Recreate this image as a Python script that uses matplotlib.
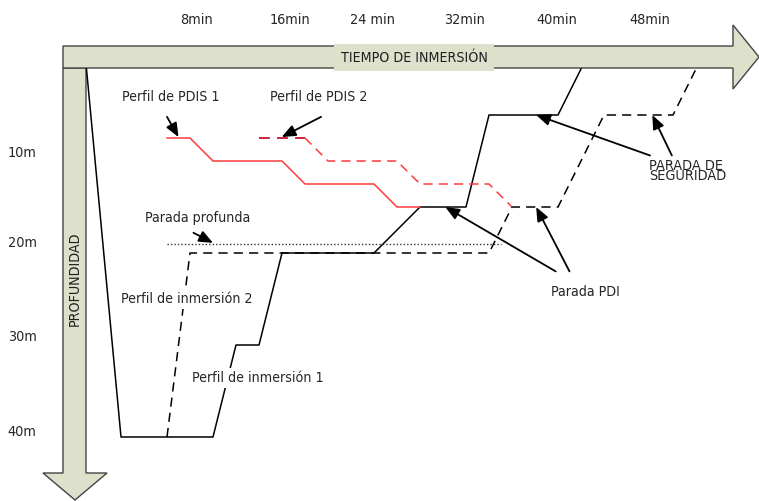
import matplotlib
matplotlib.use("Agg")
import matplotlib.pyplot as plt
from matplotlib.patches import Polygon

plt.rcParams["font.family"] = ["DejaVu Sans"]
plt.rcParams["font.stretch"] = "condensed"
plt.rcParams["font.size"] = 10.2

# time in minutes from the start of the dive, depth in metres
profile1_t = [0, 3, 11, 13, 15, 17, 25, 29, 33, 35, 41, 43]
profile1_d = [0, 40, 40, 30, 30, 20, 20, 15, 15, 5, 5, 0]

profile2_t = [7, 9, 35, 37, 41, 45, 51, 53]
profile2_d = [40, 20, 20, 15, 15, 5, 5, 0]

pdis1_t = [7, 9, 11, 17, 19, 25, 27, 29]
pdis1_d = [7.5, 7.5, 10, 10, 12.5, 12.5, 15, 15]

pdis2_t = [15, 19, 21, 27, 29, 35, 37]
pdis2_d = [7.5, 7.5, 10, 10, 12.5, 12.5, 15]

deep_stop_t = [7, 36]
deep_stop_d = [19, 19]

time_labels = ["8min", "16min", "24 min", "32min", "40min", "48min"]
time_label_pos = [9.6, 17.7, 24.9, 32.9, 40.9, 49.0]
depth_labels = ["10m", "20m", "30m", "40m"]
depth_label_pos = [9.1, 18.9, 29.1, 39.5]

TEXT = "#262626"
FILL = "#dde0cb"
EDGE = "#444444"
RED = "#ff3b3b"

fig = plt.figure(figsize=(7.59, 5.01), dpi=100)

# background layer in pixel units for the two big arrows
deco = fig.add_axes([0, 0, 1, 1])
deco.set_xlim(0, 759)
deco.set_ylim(501, 0)
deco.axis("off")

h_arrow = [(63, 46), (733, 46), (733, 25), (759, 57), (733, 89), (733, 68), (63, 68)]
v_arrow = [(63, 68), (86, 68), (86, 473), (107, 473), (75, 500), (43, 473), (63, 473)]
deco.add_patch(Polygon(v_arrow, closed=True, facecolor=FILL, edgecolor=EDGE, linewidth=1.0))
deco.add_patch(Polygon(h_arrow, closed=True, facecolor=FILL, edgecolor=EDGE, linewidth=1.0))
deco.text(414, 57.5, "TIEMPO DE INMERSIÓN", ha="center", va="center", color="#1e1e1e",
          fontsize=10.2, bbox={"facecolor": FILL, "edgecolor": "none", "pad": 4.5})
deco.text(75, 279, "PROFUNDIDAD", ha="center", va="center", rotation=90,
          color="#1e1e1e", fontsize=10.2)

# data layer: x in minutes, y in metres (depth grows downwards)
ax = fig.add_axes([0, 0, 1, 1])
ax.patch.set_alpha(0)
ax.set_xlim(-86.5 / 11.5, (759 - 86.5) / 11.5)
ax.set_ylim((501 - 69) / 9.2, -69 / 9.2)
ax.axis("off")

ax.plot(profile1_t, profile1_d, color="black", linewidth=1.1, zorder=3)
ax.plot(profile2_t, profile2_d, color="black", linewidth=1.1, linestyle=(0, (6, 4)), zorder=3)
ax.plot(pdis1_t, pdis1_d, color=RED, linewidth=1.1, zorder=4)
ax.plot(pdis2_t[:2], pdis2_d[:2], color="#c8102e", linewidth=1.3, linestyle=(0, (6, 4)), zorder=4)
ax.plot(pdis2_t[1:], pdis2_d[1:], color=RED, linewidth=1.1, linestyle=(0, (6, 4)), zorder=4)
ax.plot(deep_stop_t, deep_stop_d, color="#333333", linewidth=1.0, linestyle=(0, (1, 1.5)), zorder=3)

for label, pos in zip(time_labels, time_label_pos):
    ax.text(pos, -5.3, label, ha="center", va="center", color=TEXT, fontsize=10.4)
for label, pos in zip(depth_labels, depth_label_pos):
    ax.text(-5.6, pos, label, ha="center", va="center", color=TEXT, fontsize=10.4)

arrow_style = {"arrowstyle": "-|>,head_length=0.6,head_width=0.25", "color": "black",
               "linewidth": 1.3, "mutation_scale": 14, "shrinkA": 0, "shrinkB": 0}

ax.text(7.3, 3.0, "Perfil de PDIS 1", ha="center", va="center", color=TEXT)
ax.annotate("", xy=(8.0, 7.4), xytext=(7.0, 5.2), arrowprops=arrow_style, zorder=5)

ax.text(20.2, 3.0, "Perfil de PDIS 2", ha="center", va="center", color=TEXT)
ax.annotate("", xy=(16.97, 7.4), xytext=(20.4, 5.2), arrowprops=arrow_style, zorder=5)

ax.text(9.7, 16.2, "Parada profunda", ha="center", va="center", color=TEXT)
ax.annotate("", xy=(11.0, 18.9), xytext=(9.3, 17.8), arrowprops=arrow_style, zorder=5)

ax.text(8.7, 25.0, "Perfil de inmersión 2", ha="center", va="center", color=TEXT,
        bbox={"facecolor": "white", "edgecolor": "none", "pad": 2}, zorder=6)
ax.text(14.9, 33.6, "Perfil de inmersión 1", ha="center", va="center", color=TEXT,
        bbox={"facecolor": "white", "edgecolor": "none", "pad": 2}, zorder=6)

ax.text(43.4, 24.2, "Parada PDI", ha="center", va="center", color=TEXT)
ax.annotate("", xy=(31.2, 15.0), xytext=(40.8, 22.0), arrowprops=arrow_style, zorder=5)
ax.annotate("", xy=(39.1, 15.0), xytext=(42.0, 22.0), arrowprops=arrow_style, zorder=5)

ax.text(48.9, 11.1, "PARADA DE\nSEGURIDAD", ha="left", va="center", color=TEXT,
        fontsize=10.4, linespacing=0.68)
ax.annotate("", xy=(39.1, 5.0), xytext=(49.0, 9.4), arrowprops=arrow_style, zorder=5)
ax.annotate("", xy=(49.2, 5.0), xytext=(50.9, 9.4), arrowprops=arrow_style, zorder=5)

fig.savefig("out.png", dpi=100, facecolor="white")
